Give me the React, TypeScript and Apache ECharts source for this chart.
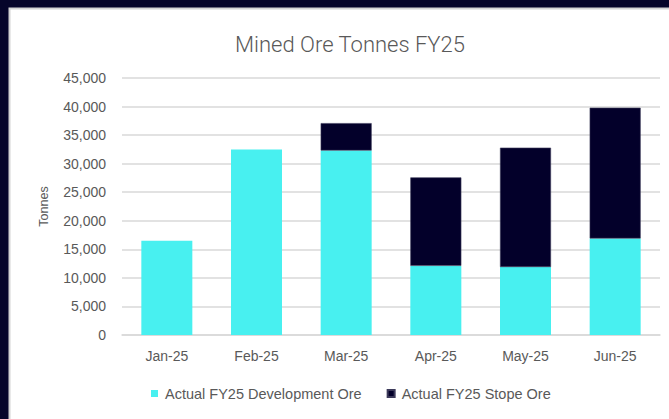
import React, { useEffect, useRef } from "react";
import * as echarts from "echarts";

const categories = ["Jan-25", "Feb-25", "Mar-25", "Apr-25", "May-25", "Jun-25"];
const developmentOre = [16500, 32500, 32300, 12100, 11900, 16900];
const stopeOre = [0, 0, 4800, 15500, 20900, 22900];
const seriesNames = ["Actual FY25 Development Ore", "Actual FY25 Stope Ore"];

export default function App() {
  const ref = useRef<HTMLDivElement>(null);
  useEffect(() => {
    if (!ref.current) return;
    const chart = echarts.init(ref.current, null, { renderer: "svg" });
    const font = "'Liberation Sans', Arial, sans-serif";
    chart.setOption({
      animation: false,
      backgroundColor: "#06052a",
      graphic: [
        {
          type: "rect",
          z: -100,
          silent: true,
          shape: { x: 9.5, y: 8.5, width: 670, height: 420 },
          style: { fill: "#ffffff", stroke: "#d4d4d4", lineWidth: 2 },
        },
      ],
      title: {
        text: "Mined Ore Tonnes FY25",
        left: 345,
        top: 28,
        textAlign: "center",
        textStyle: {
          fontFamily: "Roboto, sans-serif",
          fontWeight: 300,
          fontSize: 22,
          color: "#595959",
        },
      },
      legend: {
        bottom: 13,
        left: 146,
        itemWidth: 7,
        itemHeight: 7,
        itemGap: 25,
        icon: "rect",
        textStyle: { fontFamily: font, fontSize: 14.5, color: "#595959", padding: [0, 0, 0, 2] },
        data: seriesNames,
      },
      grid: { left: 122, right: 9, top: 78, bottom: 84, containLabel: false },
      xAxis: {
        type: "category",
        data: categories,
        axisLine: { show: true, lineStyle: { color: "#d9d9d9", width: 1.5 } },
        axisTick: { show: false },
        axisLabel: { fontFamily: font, fontSize: 14, color: "#595959", margin: 14 },
      },
      yAxis: {
        type: "value",
        min: 0,
        max: 45000,
        interval: 5000,
        name: "Tonnes",
        nameLocation: "middle",
        nameGap: 72,
        nameRotate: 90,
        nameTextStyle: { fontFamily: font, fontSize: 12.5, color: "#595959" },
        axisLine: { show: false },
        axisTick: { show: false },
        splitLine: { lineStyle: { color: "#d9d9d9", width: 1.5 } },
        axisLabel: {
          fontFamily: font,
          fontSize: 14,
          color: "#595959",
          margin: 16,
          formatter: (v: number) => v.toLocaleString("en-US"),
        },
      },
      series: [
        {
          name: seriesNames[0],
          type: "bar",
          stack: "total",
          data: developmentOre,
          barWidth: 51,
          itemStyle: { color: "#48f0f0" },
        },
        {
          name: seriesNames[1],
          type: "bar",
          stack: "total",
          data: stopeOre.map((v) => (v === 0 ? null : v)),
          barWidth: 51,
          itemStyle: { color: "#03002a", borderColor: "#3c3a5a", borderWidth: 0.6 },
        },
      ],
    });
    return () => chart.dispose();
  }, []);
  return (
    <div
      ref={ref}
      style={{ position: "fixed", left: 0, top: 0, width: 669, height: 419 }}
    />
  );
}
